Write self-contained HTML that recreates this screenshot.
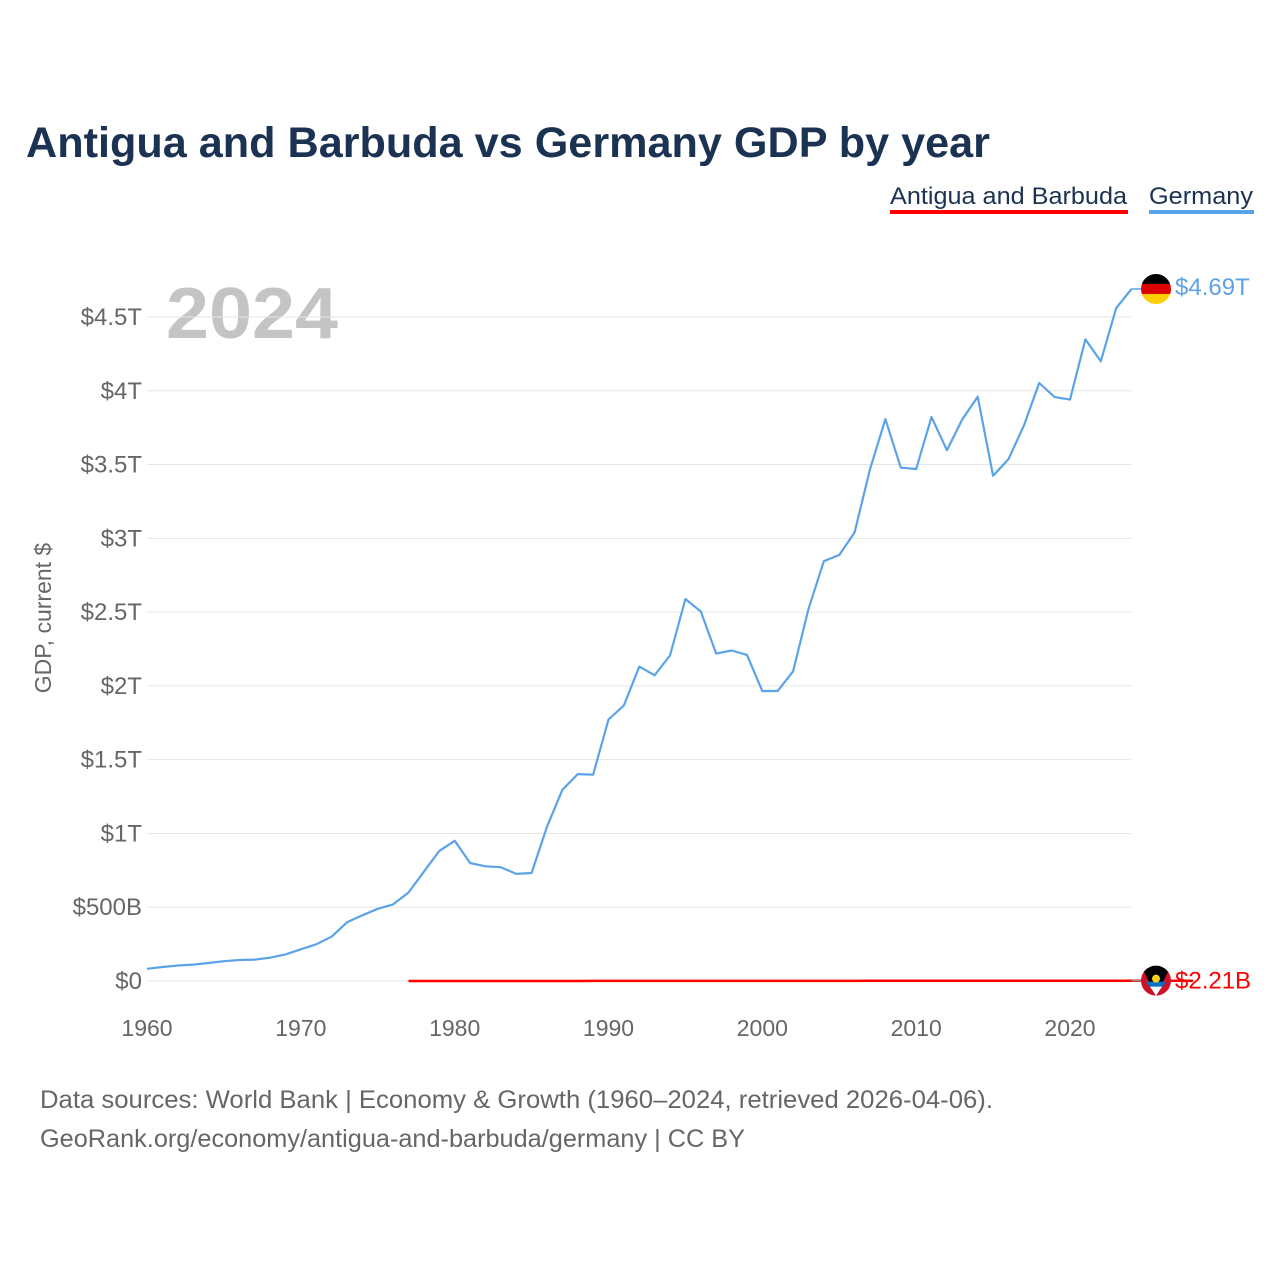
<!DOCTYPE html>
<html><head><meta charset="utf-8">
<style>
html,body{margin:0;padding:0;background:#fff;width:1280px;height:1280px;overflow:hidden;font-family:"Liberation Sans",sans-serif;}
svg text{font-family:"Liberation Sans",sans-serif;}
</style></head>
<body>
<svg id="chart" width="1280" height="1280" viewBox="0 0 1280 1280">
<text x="26" y="157" font-size="43" font-weight="bold" fill="#1b3252" textLength="964" lengthAdjust="spacingAndGlyphs">Antigua and Barbuda vs Germany GDP by year</text>
<g><text x="890" y="204" font-size="24" fill="#1b3252" textLength="237" lengthAdjust="spacingAndGlyphs">Antigua and Barbuda</text><rect x="890" y="210" width="238" height="4" fill="#ff0000"/></g>
<g><text x="1149" y="204" font-size="24" fill="#1b3252" textLength="104" lengthAdjust="spacingAndGlyphs">Germany</text><rect x="1149" y="210" width="105" height="4" fill="#5ba3e8"/></g>
<text x="166" y="338" font-size="72" font-weight="bold" fill="#c4c4c4" textLength="172" lengthAdjust="spacingAndGlyphs">2024</text>
<text transform="translate(51,618) rotate(-90)" text-anchor="middle" font-size="23" fill="#666">GDP, current $</text>
<g id="grid"></g><g id="yt"></g><g id="xt"></g><g id="lines"></g>
<text x="40" y="1108" font-size="25" fill="#666" textLength="953" lengthAdjust="spacingAndGlyphs">Data sources: World Bank | Economy &amp; Growth (1960–2024, retrieved 2026-04-06).</text>
<text x="40" y="1147" font-size="25" fill="#666" textLength="705" lengthAdjust="spacingAndGlyphs">GeoRank.org/economy/antigua-and-barbuda/germany | CC BY</text>
</svg>
<script>
const years=[];for(let y=1960;y<=2024;y++)years.push(y);
const germany=[0.083,0.095,0.105,0.111,0.122,0.134,0.142,0.145,0.158,0.180,0.215,0.249,0.300,0.398,0.445,0.489,0.519,0.600,0.741,0.882,0.950,0.800,0.777,0.771,0.726,0.732,1.046,1.296,1.402,1.398,1.772,1.868,2.131,2.072,2.206,2.589,2.504,2.219,2.240,2.210,1.965,1.966,2.099,2.522,2.846,2.887,3.040,3.468,3.808,3.479,3.470,3.822,3.597,3.806,3.960,3.424,3.537,3.764,4.053,3.957,3.940,4.348,4.200,4.560,4.690];
const antiguaStart=1977;
const antigua=[0.0001,0.0001,0.0001,0.0001,0.0001,0.0001,0.0002,0.0002,0.0002,0.0003,0.0003,0.0003,0.0004,0.0004,0.0004,0.0005,0.0005,0.0005,0.0006,0.0006,0.0006,0.0007,0.0007,0.0007,0.0008,0.0008,0.0008,0.0009,0.0009,0.0010,0.0011,0.0012,0.0013,0.0014,0.0012,0.0011,0.0012,0.0012,0.0012,0.0013,0.0014,0.0015,0.0016,0.0017,0.0016,0.0017,0.0014,0.0015,0.0018,0.0020,0.0021,0.00221];
const yTicks=[0,0.5,1,1.5,2,2.5,3,3.5,4,4.5];
const yTickLabels=["$0","$500B","$1T","$1.5T","$2T","$2.5T","$3T","$3.5T","$4T","$4.5T"];
const xTicks=[1960,1970,1980,1990,2000,2010,2020];
const NS="http://www.w3.org/2000/svg";
const X=y=>147+(y-1960)*(1070-147)/60;
const Y=v=>981-v*(981-317)/4.5;
function mk(tag,attrs,parent,txt){const e=document.createElementNS(NS,tag);for(const k in attrs)e.setAttribute(k,attrs[k]);if(txt!=null)e.textContent=txt;document.getElementById(parent).appendChild(e);return e;}
yTicks.forEach((v,i)=>{
 const g=mk('line',{x1:147,x2:1131,y1:Y(v),y2:Y(v),stroke:'#e6e6e6','stroke-width':1},'grid');
 
 
 const t=mk('text',{x:142,y:Y(v)+8,'text-anchor':'end','font-size':24,fill:'#666'},'yt',yTickLabels[i]);
 
 
});
xTicks.forEach(y=>{
 const t=mk('text',{x:X(y),y:1036,'text-anchor':'middle','font-size':23,fill:'#666'},'xt',String(y));
 
 
});
const gp=germany.map((v,i)=>X(years[i]).toFixed(1)+','+Y(v).toFixed(1)).join(' ');
const gl=mk('polyline',{points:gp,fill:'none',stroke:'#5ba3e8','stroke-width':2.2,'stroke-linejoin':'round'},'lines');


const ap=antigua.map((v,i)=>X(antiguaStart+i).toFixed(1)+','+Y(v).toFixed(1)).join(' ');
const al=mk('polyline',{points:ap,fill:'none',stroke:'#ff0000','stroke-width':2.5},'lines');


const lastG=germany[germany.length-1], lastA=antigua[antigua.length-1];
const xe=X(2024);
mk('line',{x1:xe,x2:1142,y1:Y(lastG),y2:Y(lastG),stroke:'#5ba3e8','stroke-width':1.5},'lines');
mk('line',{x1:xe,x2:1142,y1:Y(lastA),y2:Y(lastA),stroke:'#888','stroke-width':1.5},'lines');
const gy=Y(lastG);
const fg=mk('g',{},'lines');


fg.innerHTML=`<clipPath id="cg"><circle cx="1156" cy="${gy}" r="15"/></clipPath><g clip-path="url(#cg)"><rect x="1141" y="${gy-15}" width="30" height="10" fill="#000"/><rect x="1141" y="${gy-5}" width="30" height="10" fill="#dd0000"/><rect x="1141" y="${gy+5}" width="30" height="10" fill="#ffce00"/></g>`;
const gt=mk('text',{x:1175,y:gy+6,'font-size':24,fill:'#5ba3e8'},'lines','$'+lastG.toFixed(2)+'T');


const ay=Y(lastA);
const fa=mk('g',{},'lines');


fa.innerHTML=`<clipPath id="ca"><circle cx="1156" cy="${ay}" r="15"/></clipPath><g clip-path="url(#ca)"><rect x="1141" y="${ay-15}" width="30" height="30" fill="#ce1126"/><polygon points="1141,${ay-15} 1171,${ay-15} 1156,${ay+15}" fill="#000"/><polygon points="1146,${ay+1} 1166,${ay+1} 1156,${ay+15}" fill="#0072c6"/><polygon points="1150,${ay+6} 1162,${ay+6} 1156,${ay+15}" fill="#fff"/><circle cx="1156" cy="${ay-2}" r="4" fill="#fcd116"/></g>`;
const at=mk('text',{x:1175,y:ay+8,'font-size':24,fill:'#ff0000'},'lines','$'+(lastA*1000).toFixed(2)+'B');


</script>
</body></html>
